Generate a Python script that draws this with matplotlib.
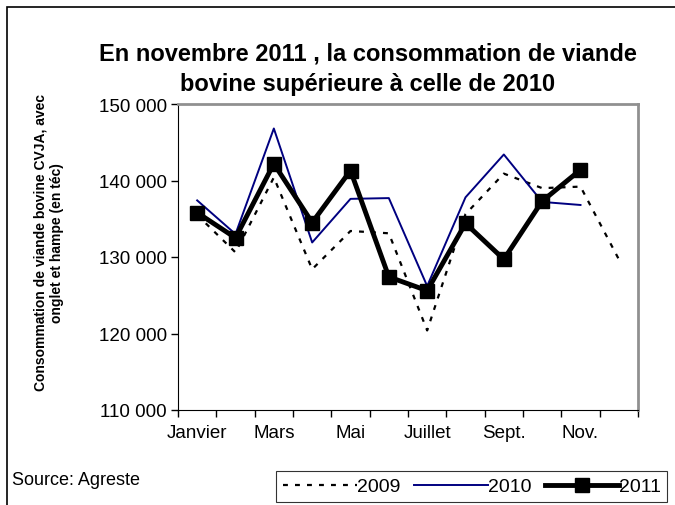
import matplotlib
matplotlib.use("Agg")
import matplotlib.pyplot as plt
from matplotlib.patches import Rectangle
from matplotlib.ticker import FuncFormatter, FixedLocator

plt.rcParams['font.family'] = ['Liberation Sans', 'DejaVu Sans']

months = ["Janvier", "Février", "Mars", "Avril", "Mai", "Juin", "Juillet",
          "Août", "Sept.", "Octobre", "Nov.", "Décembre"]
shown_labels = ["Janvier", "Mars", "Mai", "Juillet", "Sept.", "Nov."]
v2009 = [135500, 130600, 140400, 128400, 133400, 133100, 120400,
         135600, 140900, 139000, 139200, 129700]
v2010 = [137400, 133000, 146800, 131900, 137600, 137700, 126200,
         137800, 143400, 137200, 136800]
v2011 = [135800, 132500, 142200, 134500, 141300, 127400, 125600,
         134400, 129700, 137300, 141400]

fig = plt.figure(figsize=(6.75, 5.06), dpi=100)
ax = fig.add_axes([178/675, 1-411/506, (638-178)/675, (411-105)/506])

x9 = list(range(len(v2009)))
x10 = list(range(len(v2010)))
x11 = list(range(len(v2011)))
ax.plot(x9, v2009, color='black', lw=1.6, ls=(0, (2.2, 3.2)), label='2009')
ax.plot(x10, v2010, color='#000080', lw=1.4, label='2010')
ax.plot(x11, v2011, color='black', lw=3.5, marker='s', ms=10, label='2011')

ax.set_xlim(-0.5, 11.5)
ax.set_ylim(110000, 150000)
ax.set_yticks([110000, 120000, 130000, 140000, 150000])
ax.yaxis.set_major_formatter(FuncFormatter(lambda v, p: f"{int(v):,}".replace(",", " ")))
ax.xaxis.set_major_locator(FixedLocator([i - 0.5 for i in range(13)]))
ax.set_xticklabels([])
ax.xaxis.set_minor_locator(FixedLocator([0, 2, 4, 6, 8, 10]))
ax.set_xticklabels(shown_labels, minor=True)
ax.tick_params(axis='x', which='minor', length=0, pad=10, labelsize=13.5)
ax.tick_params(axis='x', which='major', length=5, direction='out', width=1)
ax.tick_params(axis='y', length=5, direction='out', labelsize=13.5, width=1, pad=3)

for s in ['top', 'right']:
    ax.spines[s].set_color('#909090')
    ax.spines[s].set_linewidth(2)
ax.spines['left'].set_color('black')
ax.spines['bottom'].set_color('black')

ax.set_ylabel("Consommation de viande bovine CVJA, avec\nonglet et hampe (en téc)",
              fontsize=10, fontweight='bold', linespacing=1.3)
ax.yaxis.set_label_coords(-0.247, 0.55)

fig.text(0.545, 1-69/506, "En novembre 2011 , la consommation de viande\nbovine supérieure à celle de 2010",
         ha='center', va='center', fontsize=17, fontweight='bold', linespacing=1.4)

fig.text(12/675, 1-481/506, "Source: Agreste", fontsize=13, va='center', ha='left')

leg = fig.legend(loc='upper left', bbox_to_anchor=(276/675, 1-472/506), ncol=3,
                 frameon=True, fancybox=False, edgecolor='black', fontsize=14,
                 handlelength=3.8, handletextpad=0.0, columnspacing=0.7,
                 borderpad=0.35, borderaxespad=0)
leg.get_frame().set_linewidth(0.8)

fig.patches.append(Rectangle((7/675, -0.05), 1.2, 1.05-8/506, transform=fig.transFigure,
                             fill=False, edgecolor='black', lw=1.2))

fig.savefig("out.png", dpi=100)
